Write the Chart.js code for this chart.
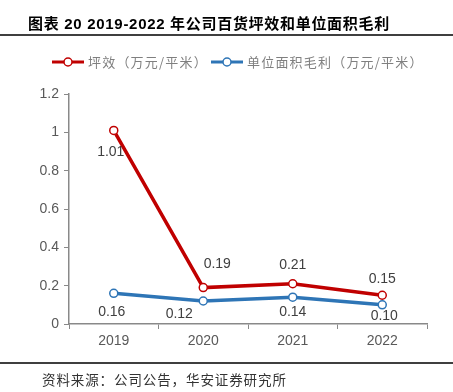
<!DOCTYPE html>
<html>
<head>
<meta charset="utf-8">
<script src="https://cdn.jsdelivr.net/npm/chart.js@4.4.0/dist/chart.umd.min.js"></script>
<style>
    html, body { margin: 0; padding: 0; background: #fff; }
    #wrap { position: relative; width: 453px; height: 392px; overflow: hidden; }
    #chart { position: absolute; left: 0; top: 0; }
    .title {
        position: absolute; left: 28px; top: 12px;
        font: bold 15px "Liberation Sans", "Noto Sans CJK SC", sans-serif;
        color: #000; white-space: nowrap; letter-spacing: 0.7px;
    }
    .rule { position: absolute; left: 0; width: 453px; height: 2px; background: #3f3f3f; }
    .source {
        position: absolute; left: 42px; top: 369px;
        font: 13.5px "Noto Sans CJK SC", sans-serif;
        color: #333; white-space: nowrap; letter-spacing: 0.9px;
    }
</style>
</head>
<body>
<div id="wrap">
    <canvas id="chart" width="453" height="392"></canvas>
    <div class="title">图表 20 2019-2022 年公司百货坪效和单位面积毛利</div>
    <div class="rule" style="top:34px"></div>
    <div class="rule" style="top:362px"></div>
    <div class="source">资料来源：公司公告，华安证券研究所</div>
</div>
<script>
// Data
const years = ['2019', '2020', '2021', '2022'];
const pingxiao = [1.01, 0.19, 0.21, 0.15];       // 坪效（万元/平米）
const mianjiMaoli = [0.16, 0.12, 0.14, 0.10];    // 单位面积毛利（万元/平米）
const seriesNames = ['坪效（万元/平米）', '单位面积毛利（万元/平米）'];
const yTicks = [0, 0.2, 0.4, 0.6, 0.8, 1, 1.2];

const RED = '#c00000';
const BLUE = '#2e75b6';
const TEXT = '#595959';
const FONT = '"Liberation Sans", Arial, sans-serif';

// label placement around each point: [dx, dy]
const labelShift = [
    [[-3, 22], [14, -23], [0, -19], [0, -16]],
    [[-2, 19], [-24, 13], [0, 15], [2, 11]]
];

// draws the value labels next to the points
const valueLabels = {
    id: 'valueLabels',
    afterDatasetsDraw(chart) {
        const ctx = chart.ctx;
        ctx.save();
        ctx.font = '14px ' + FONT;
        ctx.fillStyle = '#404040';
        ctx.textAlign = 'center';
        ctx.textBaseline = 'middle';
        chart.data.datasets.forEach(function (ds, di) {
            const meta = chart.getDatasetMeta(di);
            meta.data.forEach(function (pt, i) {
                const s = labelShift[di][i];
                ctx.fillText(ds.data[i].toFixed(2), pt.x + s[0], pt.y + s[1]);
            });
        });
        ctx.restore();
    }
};

// legend with line + hollow circle marker
const lineLegend = {
    id: 'lineLegend',
    afterDraw(chart) {
        const ctx = chart.ctx;
        const items = [
            { x: 52, color: RED, name: seriesNames[0] },
            { x: 211, color: BLUE, name: seriesNames[1] }
        ];
        const y = 62;
        ctx.save();
        items.forEach(function (it) {
            ctx.strokeStyle = it.color;
            ctx.lineWidth = 3;
            ctx.beginPath();
            ctx.moveTo(it.x, y);
            ctx.lineTo(it.x + 32, y);
            ctx.stroke();
            ctx.beginPath();
            ctx.arc(it.x + 16, y, 4, 0, Math.PI * 2);
            ctx.fillStyle = '#fff';
            ctx.fill();
            ctx.lineWidth = 1.5;
            ctx.stroke();
            ctx.fillStyle = '#7f7f7f';
            ctx.font = '13px "Noto Sans CJK SC", sans-serif';
            ctx.letterSpacing = '1.2px';
            ctx.textBaseline = 'middle';
            ctx.textAlign = 'left';
            ctx.fillText(it.name, it.x + 36, y);
        });
        ctx.restore();
    }
};

function lineSet(label, data, color) {
    return {
        label: label,
        data: data,
        borderColor: color,
        borderWidth: 3.5,
        tension: 0,
        pointRadius: 4,
        pointBorderWidth: 1.5,
        pointBackgroundColor: '#fff',
        pointBorderColor: color
    };
}

new Chart(document.getElementById('chart'), {
    type: 'line',
    data: {
        labels: years,
        datasets: [
            lineSet(seriesNames[0], pingxiao, RED),
            lineSet(seriesNames[1], mianjiMaoli, BLUE)
        ]
    },
    options: {
        responsive: false,
        animation: false,
        layout: { padding: { left: 5, top: 94, right: 26, bottom: 38 } },
        plugins: {
            legend: { display: false },
            tooltip: { enabled: false }
        },
        scales: {
            x: {
                offset: true,
                grid: {
                    offset: true,
                    drawOnChartArea: false,
                    color: '#898989',
                    tickLength: 5
                },
                border: { color: '#898989', width: 1.5 },
                ticks: { color: TEXT, font: { family: FONT, size: 14 }, padding: 4 },
                afterFit(scale) { scale.height = 30; }
            },
            y: {
                min: 0,
                max: 1.2,
                afterBuildTicks(scale) {
                    scale.ticks = yTicks.map(function (v) { return { value: v }; });
                },
                grid: {
                    drawOnChartArea: false,
                    color: '#898989',
                    tickLength: 5
                },
                border: { color: '#898989', width: 1.5 },
                ticks: {
                    color: TEXT,
                    font: { family: FONT, size: 14 },
                    padding: 5,
                    callback: function (v) { return String(Math.round(v * 10) / 10); }
                },
                afterFit(scale) { scale.width = 64; }
            }
        }
    },
    plugins: [valueLabels, lineLegend]
});
</script>
</body>
</html>
